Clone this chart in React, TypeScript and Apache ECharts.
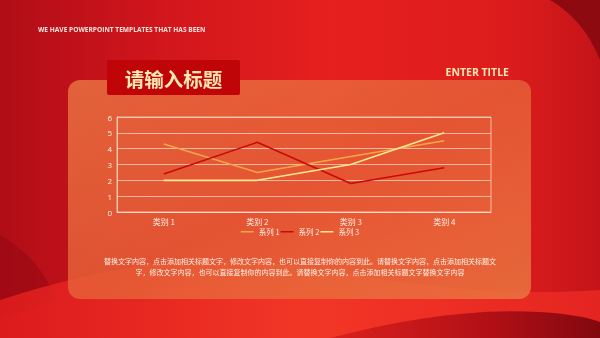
import React, { useEffect, useRef } from "react";
import * as echarts from "echarts";

const categories = ["类别 1", "类别 2", "类别 3", "类别 4"];
const seriesNames = ["系列 1", "系列 2", "系列 3"];
const series1 = [4.3, 2.5, 3.5, 4.5];
const series2 = [2.4, 4.4, 1.8, 2.8];
const series3 = [2, 2, 3, 5];
const seriesColors = ["#f4a748", "#c80a0a", "#ffe890"];
const yTicks = { min: 0, max: 6, interval: 1 };

const bodyLine1 = "替换文字内容，点击添加相关标题文字，修改文字内容，也可以直接复制你的内容到此。请替换文字内容，点击添加相关标题文";
const bodyLine2 = "字，修改文字内容，也可以直接复制你的内容到此。请替换文字内容，点击添加相关标题文字替换文字内容";

let registered = false;
function registerShapes() {
  if (registered) return;
  registered = true;
  echarts.graphic.registerShape(
    "waveLight",
    echarts.graphic.extendPath(
      "M0,338 L0,300 C80,275 160,255 260,262 C360,270 440,300 600,290 L600,338 Z",
      {}
    ) as any
  );
  echarts.graphic.registerShape(
    "waveDarkLeft",
    echarts.graphic.extendPath(
      "M0,235 C25,250 45,270 55,298 C40,306 20,314 0,318 Z",
      {}
    ) as any
  );
  echarts.graphic.registerShape(
    "waveDarkRight",
    echarts.graphic.extendPath(
      "M330,338 C400,320 470,308 540,312 C570,314 590,318 600,322 L600,338 Z",
      {}
    ) as any
  );
  echarts.graphic.registerShape(
    "cornerDark",
    echarts.graphic.extendPath(
      "M550,0 L600,0 L600,60 C590,35 575,15 550,0 Z",
      {}
    ) as any
  );
}

export default function App() {
  const ref = useRef<HTMLDivElement>(null);
  useEffect(() => {
    if (!ref.current) return;
    registerShapes();
    const chart = echarts.init(ref.current, undefined, { renderer: "svg" });
    const cjk = '"Noto Sans CJK SC", "Noto Sans", sans-serif';
    const labelColor = "#fff1e6";
    const gridLine = "rgba(255,225,205,0.7)";
    const datas = [series1, series2, series3];
    chart.setOption({
      animation: false,
      graphic: [
        {
          type: "rect",
          z: -10,
          silent: true,
          shape: { x: 0, y: 0, width: 600, height: 338 },
          style: {
            fill: new echarts.graphic.LinearGradient(0, 0, 1, 0, [
              { offset: 0, color: "#b00d17" },
              { offset: 0.25, color: "#cf151c" },
              { offset: 0.55, color: "#e6201e" },
              { offset: 0.85, color: "#dc1c1c" },
              { offset: 1, color: "#c41419" },
            ]),
          },
        },
        {
          type: "waveDarkLeft",
          z: -9,
          silent: true,
          style: { fill: "rgba(150,8,18,0.6)" },
        },
        {
          type: "waveLight",
          z: -9,
          silent: true,
          style: {
            fill: new echarts.graphic.LinearGradient(0, 0, 1, 0, [
              { offset: 0, color: "rgba(230,30,30,0.8)" },
              { offset: 0.5, color: "rgba(245,60,40,0.8)" },
              { offset: 1, color: "rgba(235,40,35,0.8)" },
            ]),
          },
        },
        {
          type: "waveDarkRight",
          z: -8,
          silent: true,
          style: {
            fill: new echarts.graphic.LinearGradient(0, 0, 1, 0, [
              { offset: 0, color: "rgba(200,20,25,0.6)" },
              { offset: 0.6, color: "rgba(170,12,20,0.9)" },
              { offset: 1, color: "rgba(130,8,15,1)" },
            ]),
          },
        },
        {
          type: "cornerDark",
          z: -8,
          silent: true,
          style: { fill: "rgba(130,8,15,0.85)" },
        },
        {
          type: "rect",
          z: -7,
          silent: true,
          shape: { x: 68, y: 80, width: 463, height: 219, r: 12 },
          style: {
            fill: new echarts.graphic.LinearGradient(0, 0, 1, 1, [
              { offset: 0, color: "rgba(234,118,66,0.8)" },
              { offset: 0.5, color: "rgba(230,98,56,0.8)" },
              { offset: 1, color: "rgba(234,122,66,0.8)" },
            ]),
          },
        },
        {
          type: "rect",
          z: -6,
          silent: true,
          shape: { x: 107, y: 60, width: 133, height: 35, r: 2 },
          style: { fill: "#c00508" },
        },
        {
          type: "text",
          z: 5,
          silent: true,
          x: 173.5,
          y: 78,
          style: {
            text: "请输入标题",
            fill: "#fde7b4",
            font: `bold 19.5px ${cjk}`,
            align: "center",
            verticalAlign: "middle",
          },
        },
        {
          type: "text",
          z: 5,
          silent: true,
          x: 38,
          y: 29.5,
          style: {
            text: "WE HAVE POWERPOINT TEMPLATES THAT HAS BEEN",
            fill: "#fbe3dc",
            font: 'bold 6.6px "Open Sans", sans-serif',
            align: "left",
            verticalAlign: "middle",
          },
        },
        {
          type: "text",
          z: 5,
          silent: true,
          x: 509,
          y: 72,
          style: {
            text: "ENTER TITLE",
            fill: "#fde7b4",
            font: 'bold 10.5px "Open Sans", sans-serif',
            align: "right",
            verticalAlign: "middle",
          },
        },
        {
          type: "text",
          z: 5,
          silent: true,
          x: 300,
          y: 261,
          style: {
            text: bodyLine1,
            fill: "#fff1e6",
            font: `7px ${cjk}`,
            align: "center",
            verticalAlign: "middle",
          },
        },
        {
          type: "text",
          z: 5,
          silent: true,
          x: 300,
          y: 272,
          style: {
            text: bodyLine2,
            fill: "#fff1e6",
            font: `7px ${cjk}`,
            align: "center",
            verticalAlign: "middle",
          },
        },
      ],
      grid: {
        left: 117,
        right: 109,
        top: 117,
        bottom: 126,
        show: true,
        borderColor: gridLine,
        borderWidth: 1,
        backgroundColor: "transparent",
      },
      legend: {
        data: seriesNames,
        top: 228,
        left: "center",
        padding: 0,
        itemWidth: 13,
        itemHeight: 8,
        itemGap: 1,
        textStyle: { color: labelColor, fontSize: 7.5, fontFamily: cjk },
        icon: "path://M0,4 L13,4 L13,5.5 L0,5.5 Z",
      },
      xAxis: {
        type: "category",
        data: categories,
        boundaryGap: true,
        axisLine: { show: true, lineStyle: { color: gridLine } },
        axisTick: { show: false },
        axisLabel: { color: labelColor, fontSize: 8, fontFamily: cjk, margin: 5 },
      },
      yAxis: {
        type: "value",
        min: yTicks.min,
        max: yTicks.max,
        interval: yTicks.interval,
        axisLine: { show: true, lineStyle: { color: gridLine } },
        axisTick: { show: false },
        axisLabel: { color: labelColor, fontSize: 8, fontFamily: '"Open Sans", sans-serif', margin: 5 },
        splitLine: { show: true, lineStyle: { color: gridLine, width: 1 } },
      },
      series: seriesNames.map((name, i) => ({
        name,
        type: "line",
        data: datas[i],
        symbol: "none",
        color: seriesColors[i],
        lineStyle: { width: 1.6, color: seriesColors[i] },
        z: i === 2 ? 4 : 3,
      })),
    });
    return () => chart.dispose();
  }, []);
  return (
    <div
      ref={ref}
      style={{ position: "fixed", left: 0, top: 0, width: 600, height: 338 }}
    />
  );
}
